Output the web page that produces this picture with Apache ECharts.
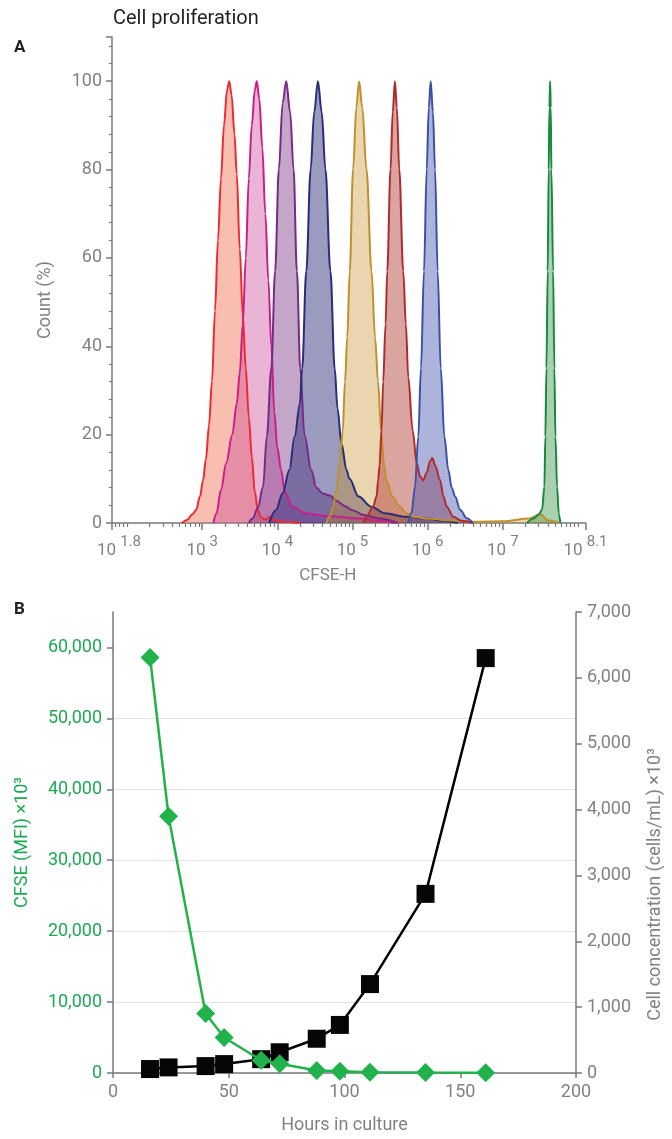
<!DOCTYPE html>
<html>
<head>
<meta charset="utf-8">
<script src="https://cdn.jsdelivr.net/npm/echarts@6/dist/echarts.min.js"></script>
<style>html,body{margin:0;padding:0;background:#fff}#c{width:672px;height:1139px}</style>
</head>
<body>
<div id="c"></div>
<script>
// ---------- Panel A: CFSE-H histograms, points are [log10(CFSE-H), Count %] ----------
const histRed = [[2.73,0],[2.80,0.7],[2.87,2],[2.92,3],[2.97,6],[3.01,9.5],[3.05,14.5],[3.09,22],[3.13,32],[3.17,48],[3.21,64],[3.25,78],[3.29,90],[3.33,98],[3.36,100],[3.39,97],[3.43,88],[3.46,79],[3.50,62],[3.54,47],[3.58,35],[3.62,24],[3.66,15],[3.70,7],[3.74,3],[3.78,1.3],[3.84,0.8],[3.90,1.3],[3.96,0.6],[4.05,0.3],[4.30,0]];
const histMagenta = [[3.15,0],[3.19,2.2],[3.25,7.5],[3.32,13.6],[3.40,20],[3.46,27],[3.50,34],[3.54,45],[3.58,60],[3.62,78],[3.66,90],[3.70,98],[3.726,100],[3.76,96],[3.80,85],[3.84,70],[3.88,55],[3.92,40],[3.96,25],[4.00,17],[4.05,12],[4.10,7],[4.20,3.7],[4.38,2.2],[4.70,1.5],[5.10,1.0],[5.36,0.5],[5.56,0]];
const histPurple = [[3.62,0],[3.67,1],[3.74,3.4],[3.81,8.2],[3.86,19.6],[3.92,35],[3.97,57],[4.02,80],[4.07,95],[4.118,100],[4.17,93],[4.216,80],[4.26,57],[4.305,35],[4.36,20],[4.45,12],[4.52,8],[4.60,6.7],[4.70,6.2],[4.79,5],[4.90,3.8],[5.00,2.9],[5.15,1.8],[5.36,1],[5.60,0]];
const histNavy = [[3.89,0],[3.98,2.9],[4.07,6.7],[4.16,12],[4.23,19.6],[4.30,27],[4.33,35],[4.385,57],[4.443,80],[4.49,93],[4.54,100],[4.59,93],[4.64,80],[4.706,57],[4.763,35],[4.80,26],[4.853,18],[4.92,12],[4.96,10],[5.08,6],[5.25,3.7],[5.43,2.2],[5.70,1.4],[6.0,1.0],[6.2,0.5],[6.4,0]];
const histGold = [[4.65,0],[4.70,1.5],[4.74,3.7],[4.786,7.5],[4.83,13.6],[4.87,21],[4.90,32],[4.93,42],[4.963,57],[5.008,80],[5.05,94],[5.088,100],[5.13,94],[5.186,80],[5.253,57],[5.30,42],[5.34,32],[5.38,21],[5.42,13],[5.453,9.5],[5.53,6],[5.63,3.7],[5.72,2.2],[5.81,1.4],[6.0,1.0],[6.3,0.6],[6.6,0.3],[7.0,0.4],[7.35,1.0],[7.50,2],[7.60,0.6],[7.75,0]];
const histDarkRed = [[5.15,0],[5.19,1.4],[5.275,3.7],[5.32,6],[5.341,9.75],[5.36,13],[5.386,21],[5.408,32],[5.44,45],[5.462,57],[5.506,80],[5.535,93],[5.564,100],[5.59,94],[5.622,80],[5.675,57],[5.71,45],[5.742,33],[5.80,21],[5.854,13.6],[5.90,10.5],[5.94,9.7],[5.99,11.5],[6.03,14],[6.062,14.7],[6.10,13],[6.165,9.75],[6.21,6],[6.254,3.7],[6.342,1.4],[6.45,0.5],[6.6,0]];
const histBlue = [[5.74,0],[5.787,2.4],[5.831,8.2],[5.875,19.6],[5.911,35],[5.951,57],[5.987,80],[6.015,94],[6.04,100],[6.07,93],[6.098,80],[6.133,57],[6.174,35],[6.222,19.6],[6.275,12],[6.32,8],[6.365,6],[6.432,3],[6.52,1.1],[6.6,0]];
const histGreen = [[7.32,0],[7.41,1],[7.48,2],[7.522,3],[7.553,8.2],[7.566,19.6],[7.58,35],[7.597,57],[7.61,80],[7.62,94],[7.629,100],[7.638,94],[7.646,80],[7.669,57],[7.686,35],[7.70,19.6],[7.722,8.2],[7.745,2],[7.766,0]];

const xLabelExponents = [1.8, 3, 4, 5, 6, 7, 8.1];
const xMajorTicks = [1.8, 3, 4, 5, 6, 7, 8.1];

// ---------- Panel B ----------
const hours    = [16, 24, 40, 48, 64, 72, 88, 98, 111, 135, 161];
const cfseMfi  = [58600, 36200, 8400, 5000, 1800, 1300, 350, 250, 100, 60, 30];
const cellConc = [60, 85, 105, 135, 210, 315, 520, 730, 1350, 2720, 6300];

// ---------- styling ----------
const FONT = 'Roboto, "Noto Sans", sans-serif';
const TXT = '#808285';
const AX = '#77797c';
const GREEN = '#22b24c';
const GREEN_TXT = '#1fa955';

// log-decade minor tick positions (axis positions only)
const xMinorTicks = [];
for (let n = 1; n <= 8; n++) {
  for (let k = 1; k <= 9; k++) {
    const v = n + Math.log10(k);
    if (v > 1.8 && v < 8.1 && !(k === 1 && n >= 3 && n <= 7)) xMinorTicks.push(v);
  }
}

const histDefs = [
  {name: 'H1', data: histRed,     line: '#ee2a2f', fill: 'rgba(240,120,88,0.68)'},
  {name: 'H2', data: histMagenta, line: '#cc1d8c', fill: 'rgba(204,70,150,0.58)'},
  {name: 'H3', data: histPurple,  line: '#7a2a86', fill: 'rgba(122,56,134,0.64)'},
  {name: 'H4', data: histNavy,    line: '#2a2d78', fill: 'rgba(42,44,120,0.68)'},
  {name: 'H5', data: histGold,    line: '#c0902c', fill: 'rgba(198,146,44,0.55)'},
  {name: 'H6', data: histDarkRed, line: '#b12a2e', fill: 'rgba(172,52,44,0.64)'},
  {name: 'H7', data: histBlue,    line: '#3a52a6', fill: 'rgba(60,76,172,0.6)'},
  {name: 'H8', data: histGreen,   line: '#168a3e', fill: 'rgba(46,139,62,0.58)'}
];

const histSeries = histDefs.map(d => ({
  name: d.name, type: 'line', xAxisIndex: 0, yAxisIndex: 0,
  data: d.data, smooth: 0.35, smoothMonotone: 'x', showSymbol: false, symbol: 'none',
  lineStyle: {color: d.line, width: 2},
  areaStyle: {color: d.fill},
  silent: true
}));

const chart = echarts.init(document.getElementById('c'), null, {renderer: 'canvas', width: 672, height: 1139});

const option = {
  animation: false,
  backgroundColor: '#ffffff',
  textStyle: {fontFamily: FONT},
  title: {
    text: 'Cell proliferation', left: 108, top: 4,
    textStyle: {fontFamily: FONT, fontSize: 20, fontWeight: 'normal', color: '#231f20'}
  },
  graphic: [
    {type: 'text', left: 14, top: 39, style: {text: 'A', font: 'bold 17px Roboto', fill: '#231f20'}},
    {type: 'text', left: 14, top: 601, style: {text: 'B', font: 'bold 17px Roboto', fill: '#231f20'}}
  ],
  grid: [
    {left: 112, top: 37, width: 473.5, height: 486},
    {left: 113, top: 612, width: 465, height: 461}
  ],
  xAxis: [
    {
      gridIndex: 0, type: 'value', min: 1.8, max: 8.1, position: 'bottom',
      name: 'CFSE-H', nameLocation: 'middle', nameGap: 44,
      nameTextStyle: {fontFamily: FONT, fontSize: 17, color: TXT, padding: [0, 42, 0, 0]},
      axisLine: {lineStyle: {color: AX, width: 1.5}},
      axisTick: {customValues: xMajorTicks, length: 7, lineStyle: {color: AX, width: 1.5}},
      axisLabel: {
        customValues: xLabelExponents, margin: 12,
        formatter: v => (v === 1.8 ? '{p|}' : '') + '{b|10}{s|' + v + '}',
        rich: {
          p: {width: 14},
          b: {fontFamily: FONT, fontSize: 17, color: TXT, verticalAlign: 'bottom'},
          s: {fontFamily: FONT, fontSize: 15, color: TXT, verticalAlign: 'bottom', padding: [0, 0, 9, 4]}
        }
      },
      splitLine: {show: false}
    },
    {
      gridIndex: 0, type: 'value', min: 1.8, max: 8.1, position: 'bottom',
      axisLine: {show: false}, axisLabel: {show: false}, splitLine: {show: false},
      axisTick: {customValues: xMinorTicks, length: 4, lineStyle: {color: AX, width: 1.2}}
    },
    {
      gridIndex: 1, type: 'value', min: 0, max: 200, interval: 50, position: 'bottom',
      name: 'Hours in culture', nameLocation: 'middle', nameGap: 43,
      nameTextStyle: {fontFamily: FONT, fontSize: 18, color: TXT},
      axisLine: {lineStyle: {color: AX, width: 1.5}},
      axisTick: {length: 5, lineStyle: {color: AX, width: 1.5}},
      axisLabel: {fontFamily: FONT, fontSize: 18, color: TXT, margin: 10},
      splitLine: {show: false}
    }
  ],
  yAxis: [
    {
      gridIndex: 0, type: 'value', min: 0, max: 110, interval: 20,
      name: 'Count (%)', nameLocation: 'middle', nameGap: 58, nameRotate: 90,
      nameTextStyle: {fontFamily: FONT, fontSize: 18, color: TXT, padding: [0, 40, 0, 0]},
      axisLine: {show: true, lineStyle: {color: AX, width: 1.5}},
      axisTick: {show: true, length: 6, lineStyle: {color: AX, width: 1.5}},
      minorTick: {show: true, splitNumber: 5, length: 3, lineStyle: {color: AX, width: 1.2}},
      axisLabel: {fontFamily: FONT, fontSize: 18, color: TXT, margin: 10, showMaxLabel: false},
      splitLine: {show: false}
    },
    {
      gridIndex: 1, type: 'value', min: 0, max: 65000, interval: 10000, position: 'left',
      name: 'CFSE (MFI) ×10³', nameLocation: 'middle', nameGap: 82, nameRotate: 90,
      nameTextStyle: {fontFamily: FONT, fontSize: 18, color: GREEN_TXT},
      axisLine: {show: true, lineStyle: {color: AX, width: 1.5}},
      axisTick: {show: true, length: 6, customValues: [0, 10000, 20000, 30000, 40000, 50000, 60000], lineStyle: {color: AX, width: 1.5}},
      axisLabel: {fontFamily: FONT, fontSize: 18, color: GREEN_TXT, margin: 11, showMaxLabel: false,
                  formatter: v => v.toLocaleString('en-US')},
      splitLine: {show: true, showMaxLine: false, lineStyle: {color: '#e3e3e3', width: 1.2}}
    },
    {
      gridIndex: 1, type: 'value', min: 0, max: 7000, interval: 1000, position: 'right',
      name: 'Cell concentration (cells/mL) ×10³', nameLocation: 'middle', nameGap: 70, nameRotate: 90,
      nameTextStyle: {fontFamily: FONT, fontSize: 18, color: TXT, padding: [0, 84, 0, 0]},
      axisLine: {show: true, lineStyle: {color: AX, width: 1.5}},
      axisTick: {show: true, length: 6, lineStyle: {color: AX, width: 1.5}},
      axisLabel: {fontFamily: FONT, fontSize: 18, color: TXT, margin: 11,
                  formatter: v => v.toLocaleString('en-US')},
      splitLine: {show: false}
    }
  ],
  series: histSeries.concat([
    {
      name: 'Cell concentration', type: 'line', xAxisIndex: 2, yAxisIndex: 2,
      data: hours.map((h, i) => [h, cellConc[i]]),
      symbol: 'rect', symbolSize: 18,
      lineStyle: {color: '#000000', width: 2.5},
      itemStyle: {color: '#060606'}, z: 3
    },
    {
      name: 'CFSE (MFI)', type: 'line', xAxisIndex: 2, yAxisIndex: 1,
      data: hours.map((h, i) => [h, cfseMfi[i]]),
      symbol: 'diamond', symbolSize: [19, 19],
      lineStyle: {color: GREEN, width: 2.5},
      itemStyle: {color: GREEN}, z: 4
    }
  ])
};

chart.setOption(option);
</script>
</body>
</html>
